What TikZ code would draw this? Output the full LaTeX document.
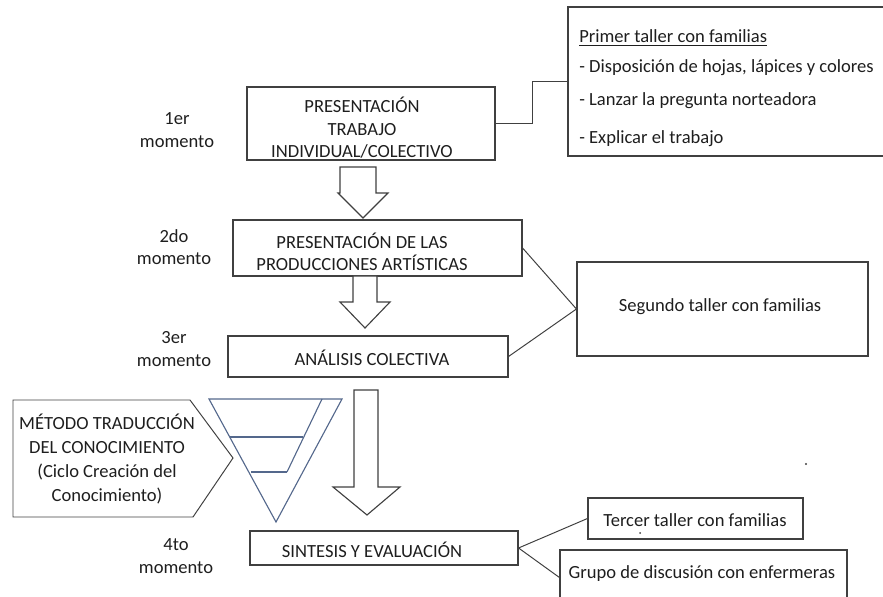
\documentclass[tikz,border=0pt]{standalone}
\usepackage{fontspec}
\setmainfont{Carlito}
\usepackage{tikz}
\usetikzlibrary{fit}
\definecolor{linea}{RGB}{64,64,64}
\definecolor{embudo}{RGB}{84,104,140}
\definecolor{texto}{RGB}{30,30,30}

\begin{document}
\begin{tikzpicture}[x=0.025cm,y=-0.025cm]
		\tikzset{caja/.style={draw=linea, line width=0.8pt, inner sep=0pt},
			etiqueta/.style={text=texto, font=\fontsize{13.2}{16}\selectfont, align=center, inner sep=0pt},
			conector/.style={draw=linea, line width=0.7pt},
			flecha/.style={draw=linea, line width=0.8pt, fill=white, line join=miter}};
		\useasboundingbox (0,0) rectangle (883,597);
		\clip (0,0) rectangle (883,597);
		% momentos
		\node[caja, fit={(247,87) (495,160)}] (mom1) {};
		\node[etiqueta] (tmom1) at (362,128) {PRESENTACIÓN\\TRABAJO\\INDIVIDUAL/COLECTIVO};
		\node[caja, fit={(233,220) (522,276)}] (mom2) {};
		\node[etiqueta] (tmom2) at (362,252) {PRESENTACIÓN DE LAS\\PRODUCCIONES ARTÍSTICAS};
		\node[caja, fit={(228,336) (508,377)}] (mom3) {};
		\node[etiqueta] (tmom3) at (372,358) {ANÁLISIS COLECTIVA};
		\node[caja, fit={(250,531) (518,565)}] (mom4) {};
		\node[etiqueta] (tmom4) at (372,550) {SINTESIS Y EVALUACIÓN};
		\node[etiqueta] (num1) at (177,130) {1er\\momento};
		\node[etiqueta] (num2) at (174,247) {2do\\momento};
		\node[etiqueta] (num3) at (174,349) {3er\\momento};
		\node[etiqueta] (num4) at (176,556) {4to\\momento};
		% talleres
		\node[caja, fit={(568,7) (890,156)}] (taller1) {};
		\node[etiqueta, anchor=base west] (tall1a) at (579,43) {\underline{Primer taller con familias}};
		\node[etiqueta, anchor=base west] (tall1b) at (579,73) {- Disposición de hojas, lápices y colores};
		\node[etiqueta, anchor=base west] (tall1c) at (579,106) {- Lanzar la pregunta norteadora};
		\node[etiqueta, anchor=base west] (tall1d) at (579,144) {- Explicar el trabajo};
		\node[caja, fit={(577,262) (868,356)}] (taller2) {};
		\node[etiqueta, anchor=base] (tall2) at (720,312) {Segundo taller con familias};
		\node[caja, fit={(588,498) (803,539)}] (taller3) {};
		\node[etiqueta, anchor=base] (tall3) at (695,526) {Tercer taller con familias};
		\node[caja, fit={(560,550) (847,605)}] (grupo) {};
		\node[etiqueta, anchor=base] (tgrupo) at (702,578) {Grupo de discusión con enfermeras};
		\draw[conector] (mom1.east) -- ++(37,0) |- (taller1.west);
		\draw[conector] (mom2.east) -- (taller2.west);
		\draw[conector] (mom3.east) -- (taller2.west);
		\draw[conector] (mom4.east) -- (taller3.west);
		\draw[conector] (mom4.east) -- (grupo.west);
		% flechas gruesas
		\draw[flecha] (340,167) -- (376,167) -- (376,193) -- (388,193) -- (363,218) -- (338,193) -- (340,193) -- cycle;
		\draw[flecha] (353,276) -- (377,276) -- (377,302) -- (390,302) -- (365,328) -- (340,302) -- (353,302) -- cycle;
		\draw[flecha] (354,390) -- (378,390) -- (378,487) -- (400,487) -- (367,515) -- (333,487) -- (354,487) -- cycle;
		% metodo y embudo
		\draw[conector] (13,400) -- (190,400) -- (233,458) -- (193,517) -- (13,517) -- cycle;
		\node[etiqueta, font=\fontsize{13.2}{17}\selectfont] (metodo) at (107,459) {MÉTODO TRADUCCIÓN\\DEL CONOCIMIENTO\\(Ciclo Creación del\\Conocimiento)};
		\draw[embudo, line width=0.8pt, line join=miter] (209,399) -- (342,399) -- (276,522) -- cycle;
		\draw[embudo, line width=0.8pt] (322,399) -- (287,472);
		\draw[embudo, line width=0.8pt] (230,437) -- (303,437);
		\draw[embudo, line width=0.8pt] (251,472) -- (287,472);
		\fill[linea] (806,464) circle (1.2);
		\fill[linea] (640,533) circle (1);
	\end{tikzpicture}
\end{document}
